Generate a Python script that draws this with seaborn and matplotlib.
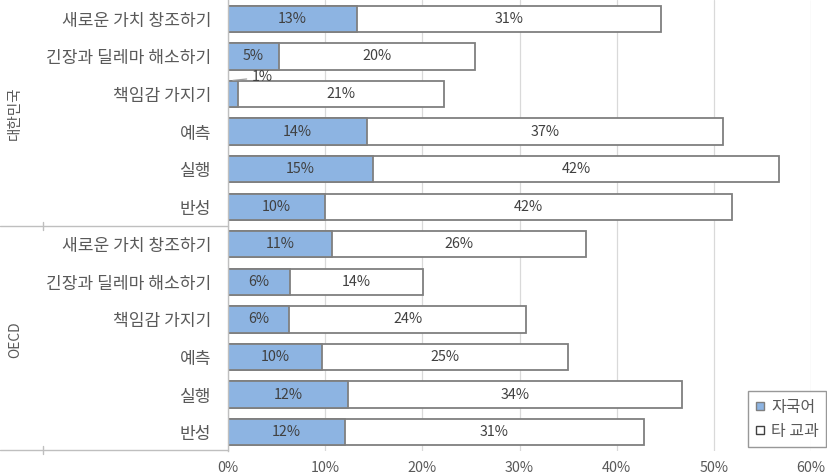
import matplotlib
matplotlib.use("Agg")
import matplotlib.pyplot as plt
from matplotlib.lines import Line2D
import numpy as np
import pandas as pd
import seaborn as sns

# 항목 (위에서 아래로): 대한민국 6개, OECD 6개
items = ['새로운 가치 창조하기', '긴장과 딜레마 해소하기', '책임감 가지기',
         '예측', '실행', '반성']
groups = ['대한민국', 'OECD']

# 자국어 / 타 교과 비율 (%)
kr_native = [13.3, 5.2, 1.0, 14.3, 14.9, 10.0]
kr_other = [31.3, 20.2, 21.2, 36.6, 41.8, 41.9]
oecd_native = [10.7, 6.4, 6.3, 9.7, 12.3, 12.0]
oecd_other = [26.1, 13.7, 24.4, 25.3, 34.4, 30.8]

series_names = ['자국어', '타 교과']

BLUE = '#8db4e2'
EDGE = '#7f7f7f'
TXT = '#404040'

rows = []
for g, nat, oth in [(groups[0], kr_native, kr_other),
                    (groups[1], oecd_native, oecd_other)]:
    for it, a, b in zip(items, nat, oth):
        rows.append({'row': g + '|' + it, 'item': it, 'native': a,
                     'other': b, 'total': a + b})
df = pd.DataFrame(rows)

sns.set_theme(style='white')
plt.rcParams['font.family'] = ['Noto Sans CJK KR', 'DejaVu Sans']

fig = plt.figure(figsize=(8.27, 4.74), dpi=100)
ax = fig.add_axes([228 / 827, 0.0485, (811 - 228) / 827, 0.9515])

order = list(df['row'])
sns.barplot(data=df, y='row', x='total', order=order, orient='h',
            color='white', edgecolor=EDGE, linewidth=1.3, width=0.7,
            saturation=1, ax=ax)
sns.barplot(data=df, y='row', x='native', order=order, orient='h',
            color=BLUE, edgecolor=EDGE, linewidth=1.3, width=0.7,
            saturation=1, ax=ax)

# data labels
for i, r in df.iterrows():
    if r['native'] >= 3:
        ax.text(r['native'] / 2, i, f"{r['native']:.0f}%", ha='center',
                va='center', fontsize=10.3, color=TXT)
    else:
        ax.annotate(f"{r['native']:.0f}%", xy=(r['native'] * 0.5, i - 0.36),
                    xytext=(r['native'] + 1.4, i - 0.44), fontsize=10.3,
                    color=TXT, va='center', ha='left',
                    arrowprops=dict(arrowstyle='-', color='#a0a0a0', lw=0.9,
                                    shrinkA=1, shrinkB=0))
    ax.text(r['native'] + r['other'] / 2, i, f"{r['other']:.0f}%",
            ha='center', va='center', fontsize=10.3, color=TXT)

ax.set_xlim(0, 60)
ax.set_xticks(np.arange(0, 61, 10))
ax.set_xticklabels([f'{v}%' for v in range(0, 61, 10)])
ax.set_yticks(range(len(df)))
ax.set_yticklabels(df['item'])
ax.set_xlabel('')
ax.set_ylabel('')
ax.tick_params(axis='y', labelsize=12.3, labelcolor='#595959', length=0, pad=12)
ax.tick_params(axis='x', labelsize=10.3, labelcolor='#595959', length=0, pad=7)
ax.xaxis.grid(True, color='#d9d9d9', linewidth=0.9)
ax.set_axisbelow(True)
for s in ['top', 'right', 'bottom']:
    ax.spines[s].set_visible(False)
ax.spines['left'].set_color('#bfbfbf')
ax.spines['left'].set_linewidth(1.0)

# group labels and separators
fig.text(15 / 827, 1 - 113 / 474, groups[0], rotation=90, ha='center',
         va='center', fontsize=10.5, color='#595959')
fig.text(15 / 827, 1 - 340 / 474, groups[1], rotation=90, ha='center',
         va='center', fontsize=10, color='#595959')
for yy in [226, 450]:
    fig.add_artist(Line2D([0, 228 / 827], [1 - yy / 474, 1 - yy / 474],
                          color='#bfbfbf', lw=1.0))
    fig.add_artist(Line2D([43 / 827, 43 / 827],
                          [1 - (yy - 4) / 474, 1 - (yy + 4) / 474],
                          color='#bfbfbf', lw=1.0))

handles = [Line2D([], [], marker='s', linestyle='', markersize=6,
                  markerfacecolor=BLUE, markeredgecolor=EDGE),
           Line2D([], [], marker='s', linestyle='', markersize=6,
                  markerfacecolor='white', markeredgecolor='#404040')]
leg = fig.legend(handles, series_names, loc='lower right',
                 bbox_to_anchor=(826 / 827, 1 - 447 / 474), fontsize=11.5,
                 frameon=True, fancybox=False, handlelength=0.6,
                 handletextpad=0.4, borderpad=0.45, labelspacing=0.45,
                 borderaxespad=0)
leg.get_frame().set_edgecolor('#7f7f7f')
leg.get_frame().set_linewidth(1.0)
for t in leg.get_texts():
    t.set_color('#595959')

fig.savefig('out.png', dpi=100)
